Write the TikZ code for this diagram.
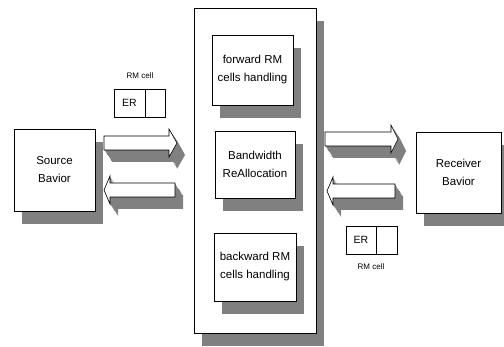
\documentclass[tikz,border=0pt]{standalone}
\usepackage{fontspec}
\setmainfont{Liberation Sans}
\usetikzlibrary{positioning, shadows}

\colorlet{stipple}{black!50}

% 3D block arrow: tail x, head base x, tip x, centre y
\newcommand{\arrowpath}[4]{(#1,#4-7) -- (#2,#4-7) -- (#2,#4-14) -- (#3,#4) -- (#2,#4+14) -- (#2,#4+7) -- (#1,#4+7) -- cycle}
\newcommand{\fatarrow}[4]{%
  \foreach \k in {0.1,0.2,...,1.0}
    \fill[stipple, shift={(8*\k,12*\k)}] \arrowpath{#1}{#2}{#3}{#4};
  \draw[semithick, fill=white] \arrowpath{#1}{#2}{#3}{#4};
}

\tikzset{
  block/.style={draw, semithick, fill=white, align=center, inner sep=0pt,
    font=\fontsize{11.5}{18}\selectfont,
    drop shadow={shadow xshift=8pt, shadow yshift=-13pt, fill=stipple, opacity=1}},
  cellbox/.style={draw, semithick, fill=white, inner sep=0pt, minimum height=28pt,
    font=\fontsize{10.5}{12}\selectfont},
  celllabel/.style={font=\fontsize{8}{10}\selectfont, inner sep=0pt}
}

\begin{document}
\begin{tikzpicture}[x=1pt, y=-1pt]
        \useasboundingbox (0,0) rectangle (504,347);

        % Source and Receiver
        \node[block, minimum width=81pt, minimum height=82pt] (src) at (54.5,170) {Source\\Bavior};
        \node[block, minimum width=85pt, minimum height=81pt] (rcv) at (458.5,172.5) {Receiver\\Bavior};

        % Switch with its three units
        \node[block, minimum width=122pt, minimum height=325pt] (sw) at (255,170.5) {};
        \node[block, minimum width=81pt, minimum height=70pt] (fwd) at (252.5,70) {forward RM\\cells handling};
        \node[block, minimum width=80pt, minimum height=67pt] (bwa) at (255,164.5) {Bandwidth\\ReAllocation};
        \node[block, minimum width=82pt, minimum height=68pt] (bwd) at (255,267) {backward RM\\cells handling};

        % Forward and backward flows
        \fatarrow{104}{169}{177}{143}
        \fatarrow{175}{110}{104}{190}
        \fatarrow{325}{391}{398}{139}
        \fatarrow{395}{333}{327}{191}

        % RM cells
        \node[cellbox, minimum width=31pt] (erL) at (129.5,103) {ER};
        \node[cellbox, minimum width=20pt, right=0pt of erL] (erLx) {};
        \node[celllabel] (rmL) at (140,76) {RM cell};

        \node[cellbox, minimum width=30pt] (erR) at (361,240) {ER};
        \node[cellbox, minimum width=21pt, right=0pt of erR] (erRx) {};
        \node[celllabel] (rmR) at (371,267) {RM cell};

    \end{tikzpicture}
\end{document}
